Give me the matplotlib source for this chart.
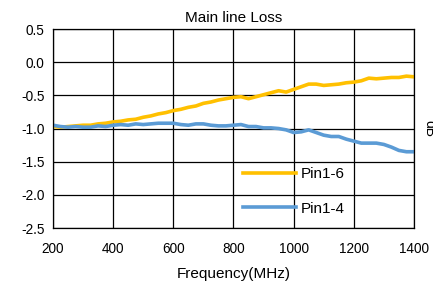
import matplotlib
matplotlib.use('Agg')
import matplotlib.pyplot as plt

plt.rcParams['font.family'] = ['Liberation Sans', 'DejaVu Sans']

# frequency points (MHz)
freq = [200, 225, 250, 275, 300, 325, 350, 375, 400, 425, 450, 475, 500,
        525, 550, 575, 600, 625, 650, 675, 700, 725, 750, 775, 800, 825,
        850, 875, 900, 925, 950, 975, 1000, 1025, 1050, 1075, 1100, 1125,
        1150, 1175, 1200, 1225, 1250, 1275, 1300, 1325, 1350, 1375, 1400]

pin1_6 = [-0.97, -0.98, -0.97, -0.96, -0.95, -0.95, -0.93, -0.92, -0.90,
          -0.89, -0.87, -0.86, -0.83, -0.81, -0.78, -0.76, -0.73, -0.71,
          -0.68, -0.66, -0.62, -0.60, -0.57, -0.55, -0.53, -0.52, -0.55,
          -0.52, -0.49, -0.46, -0.43, -0.45, -0.41, -0.37, -0.33, -0.33,
          -0.35, -0.34, -0.33, -0.31, -0.30, -0.28, -0.24, -0.25, -0.24,
          -0.23, -0.23, -0.21, -0.22]

pin1_4 = [-0.95, -0.97, -0.98, -0.97, -0.98, -0.98, -0.96, -0.97, -0.95,
          -0.94, -0.95, -0.93, -0.94, -0.93, -0.92, -0.92, -0.92, -0.94,
          -0.95, -0.93, -0.93, -0.95, -0.96, -0.96, -0.95, -0.94, -0.97,
          -0.97, -0.99, -0.99, -1.00, -1.02, -1.06, -1.05, -1.02, -1.06,
          -1.10, -1.12, -1.12, -1.16, -1.19, -1.22, -1.22, -1.22, -1.24,
          -1.28, -1.33, -1.35, -1.35]

fig = plt.figure(figsize=(4.33, 2.85), dpi=100)
ax = fig.add_axes([0.1224, 0.2, 0.8336, 0.698])

ax.plot(freq, pin1_6, color='#FFC000', lw=2.6, label='Pin1-6')
ax.plot(freq, pin1_4, color='#5B9BD5', lw=2.6, label='Pin1-4')

ax.set_xlim(200, 1400)
ax.set_ylim(-2.5, 0.5)
ax.set_xticks(range(200, 1401, 200))
ax.set_yticks([0.5, 0.0, -0.5, -1.0, -1.5, -2.0, -2.5])
ax.set_yticklabels(['0.5', '0.0', '-0.5', '-1.0', '-1.5', '-2.0', '-2.5'])
ax.tick_params(length=0, labelsize=9.8, colors='black')
ax.tick_params(axis='x', pad=10)
ax.tick_params(axis='y', pad=6)
ax.grid(True, color='black', lw=0.9)
for s in ax.spines.values():
    s.set_color('black')
    s.set_linewidth(0.9)

ax.set_title('Main line Loss', fontsize=11, pad=5)
ax.set_xlabel('Frequency(MHz)', fontsize=11, labelpad=8)
fig.text(0.991, 0.55, 'dB', rotation=-90, fontsize=10, ha='center', va='center')

ax.legend(loc='lower left', bbox_to_anchor=(0.488, -0.008), frameon=False,
          fontsize=11, handlelength=3.5, handletextpad=0.3, labelspacing=1.35)

plt.savefig('out.png', dpi=100)
